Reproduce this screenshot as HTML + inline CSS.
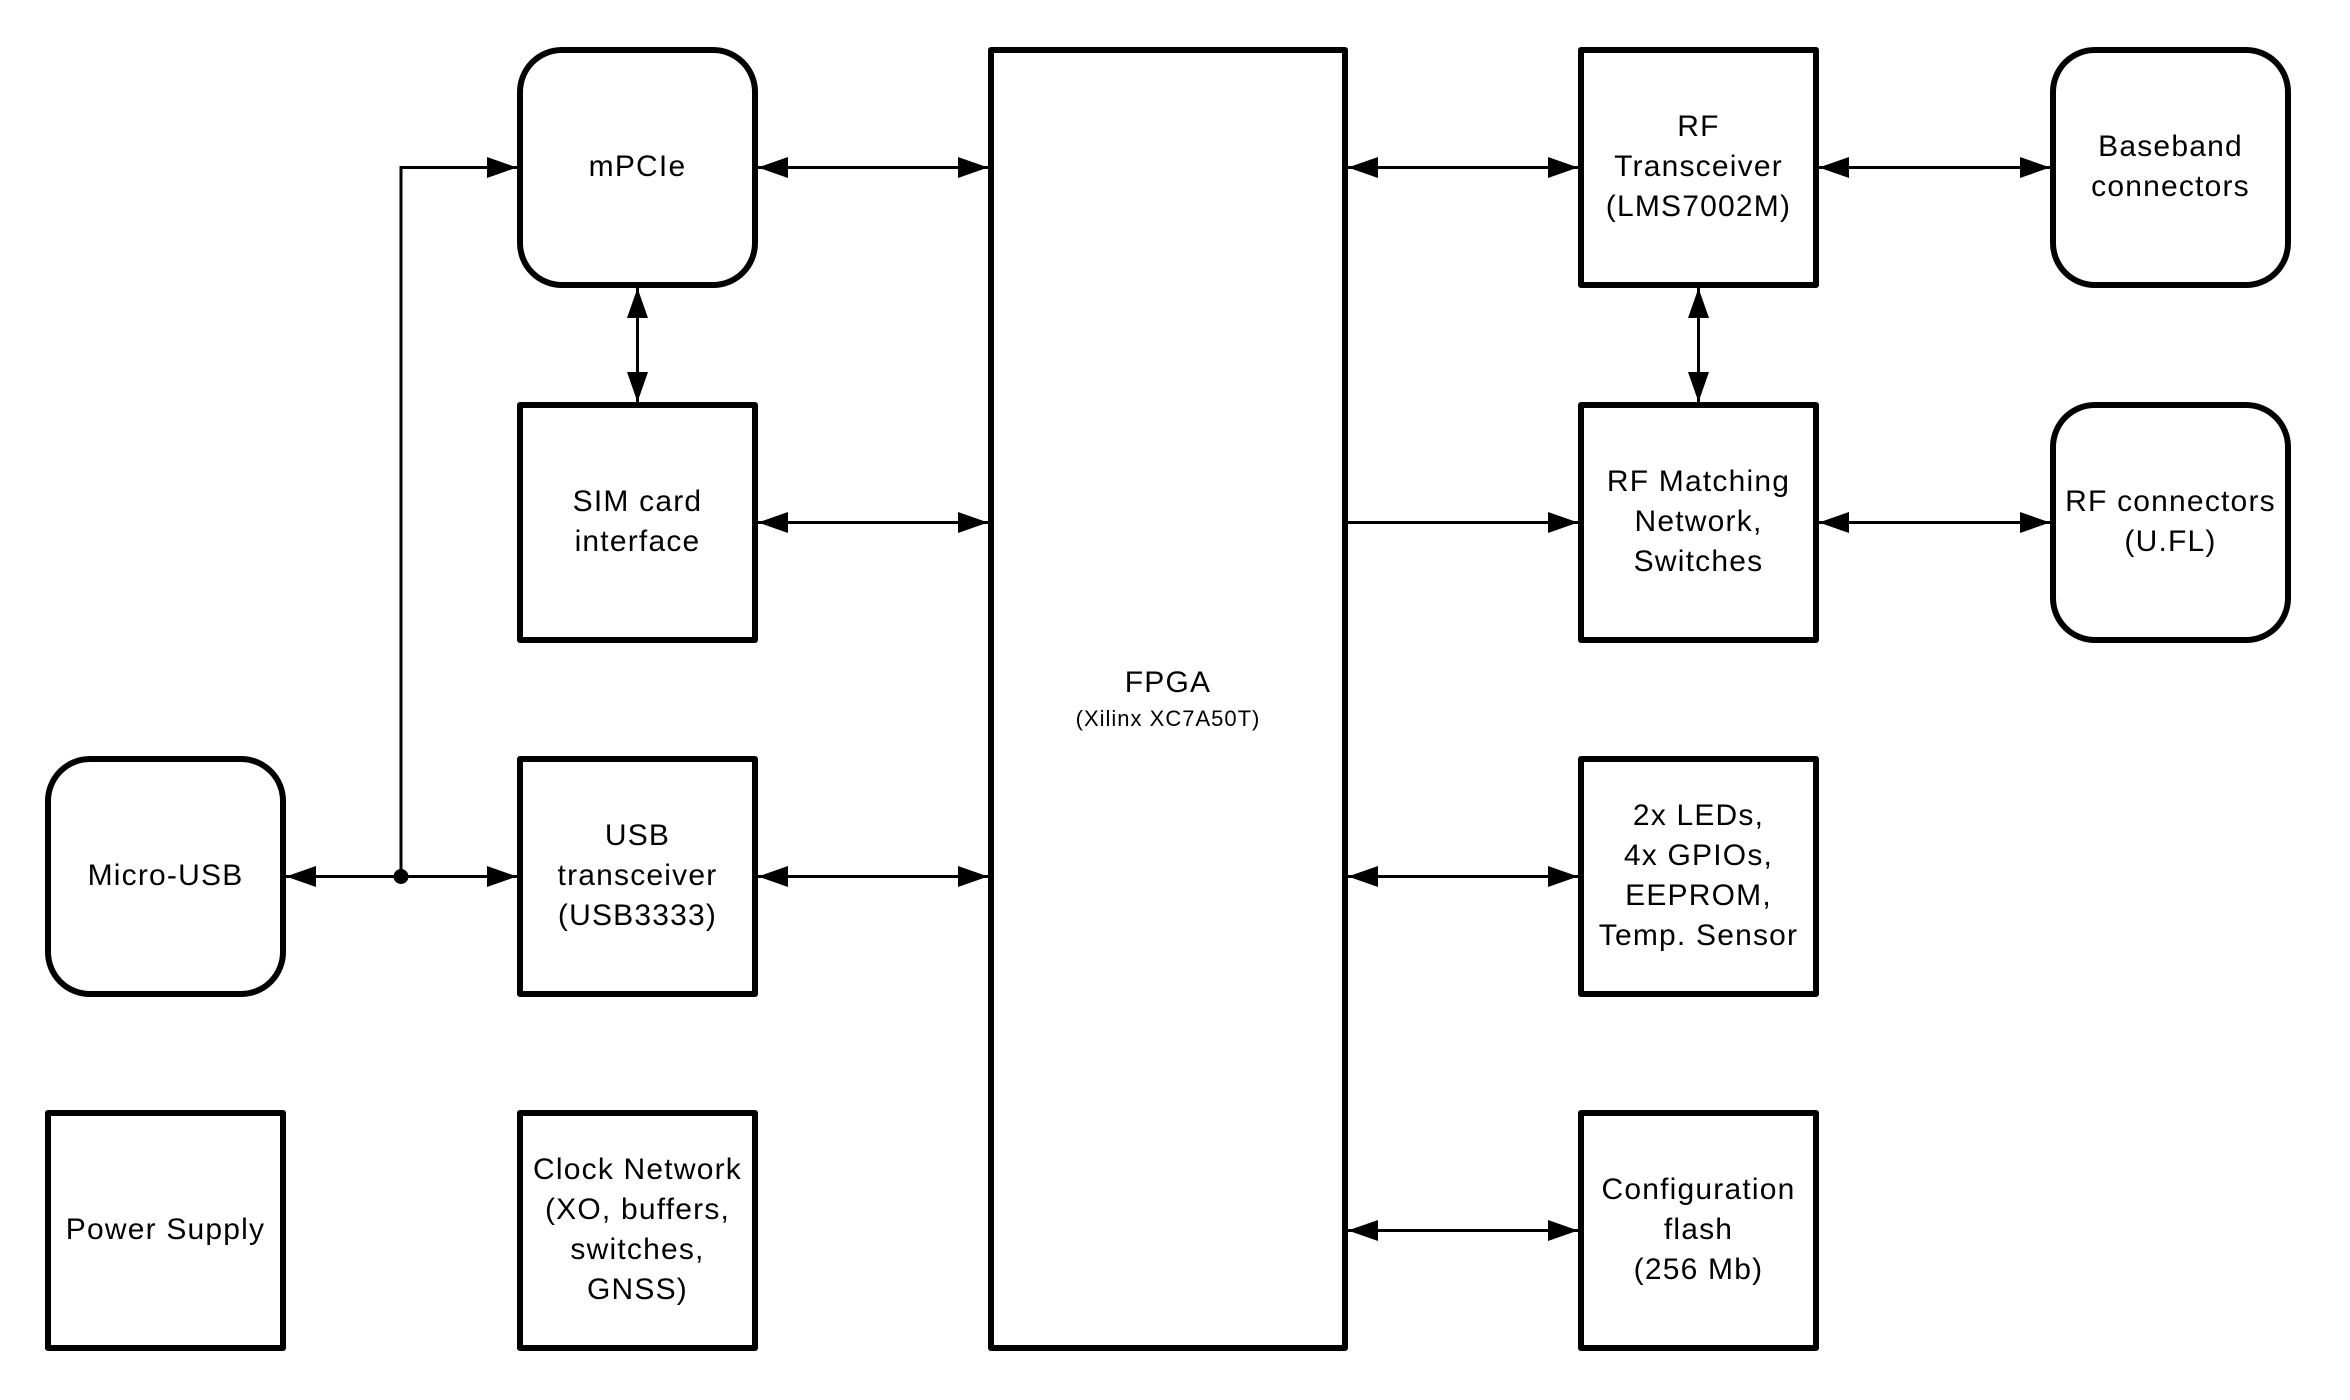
<!DOCTYPE html>
<html>
<head>
<meta charset="utf-8">
<style>
  html, body { margin: 0; padding: 0; background: #ffffff; }
  body { width: 2350px; height: 1400px; overflow: hidden; }
  svg { display: block; }
  text { font-family: "Liberation Sans", Arial, sans-serif; font-size: 30px; letter-spacing: 1.2px; fill: #000; text-anchor: middle; }
  .small { font-size: 22px; letter-spacing: 1px; }
  .box { fill: #fff; stroke: #000; stroke-width: 6; stroke-linejoin: round; }
  .ln { stroke: #000; stroke-width: 3; fill: none; }
  .ah { fill: #000; stroke: none; }
</style>
</head>
<body>
<svg width="2350" height="1400" viewBox="0 0 2350 1400" xmlns="http://www.w3.org/2000/svg">
  <rect x="0" y="0" width="2350" height="1400" fill="#fff"/>

  <!-- Micro-USB bus -->
  <line class="ln" x1="286" y1="876.5" x2="517" y2="876.5"/>
  <polyline class="ln" points="401,876.5 401,167.5 517,167.5"/>
  <circle cx="401" cy="876.5" r="7.5" fill="#000"/>
  <polygon class="ah" points="286,876.5 316,866 316,887"/>
  <polygon class="ah" points="517,876.5 487,866 487,887"/>
  <polygon class="ah" points="517,167.5 487,157 487,178"/>

  <!-- col1 <-> FPGA -->
  <line class="ln" x1="758" y1="167.5" x2="988" y2="167.5"/>
  <polygon class="ah" points="758,167.5 788,157 788,178"/>
  <polygon class="ah" points="988,167.5 958,157 958,178"/>

  <line class="ln" x1="758" y1="522.5" x2="988" y2="522.5"/>
  <polygon class="ah" points="758,522.5 788,512 788,533"/>
  <polygon class="ah" points="988,522.5 958,512 958,533"/>

  <line class="ln" x1="758" y1="876.5" x2="988" y2="876.5"/>
  <polygon class="ah" points="758,876.5 788,866 788,887"/>
  <polygon class="ah" points="988,876.5 958,866 958,887"/>

  <!-- mPCIe <-> SIM vertical -->
  <line class="ln" x1="637.5" y1="288" x2="637.5" y2="402"/>
  <polygon class="ah" points="637.5,288 627,318 648,318"/>
  <polygon class="ah" points="637.5,402 627,372 648,372"/>

  <!-- FPGA <-> col3 -->
  <line class="ln" x1="1348" y1="167.5" x2="1578" y2="167.5"/>
  <polygon class="ah" points="1348,167.5 1378,157 1378,178"/>
  <polygon class="ah" points="1578,167.5 1548,157 1548,178"/>

  <line class="ln" x1="1348" y1="522.5" x2="1578" y2="522.5"/>
  <polygon class="ah" points="1578,522.5 1548,512 1548,533"/>

  <line class="ln" x1="1348" y1="876.5" x2="1578" y2="876.5"/>
  <polygon class="ah" points="1348,876.5 1378,866 1378,887"/>
  <polygon class="ah" points="1578,876.5 1548,866 1548,887"/>

  <line class="ln" x1="1348" y1="1230.5" x2="1578" y2="1230.5"/>
  <polygon class="ah" points="1348,1230.5 1378,1220 1378,1241"/>
  <polygon class="ah" points="1578,1230.5 1548,1220 1548,1241"/>

  <!-- col3 <-> col4 -->
  <line class="ln" x1="1819" y1="167.5" x2="2050" y2="167.5"/>
  <polygon class="ah" points="1819,167.5 1849,157 1849,178"/>
  <polygon class="ah" points="2050,167.5 2020,157 2020,178"/>

  <line class="ln" x1="1819" y1="522.5" x2="2050" y2="522.5"/>
  <polygon class="ah" points="1819,522.5 1849,512 1849,533"/>
  <polygon class="ah" points="2050,522.5 2020,512 2020,533"/>

  <!-- RF transceiver <-> RF matching vertical -->
  <line class="ln" x1="1698.5" y1="288" x2="1698.5" y2="402"/>
  <polygon class="ah" points="1698.5,288 1688,318 1709,318"/>
  <polygon class="ah" points="1698.5,402 1688,372 1709,372"/>

  <!-- Boxes -->
  <rect class="box" x="48" y="759" width="235" height="235" rx="42" ry="42"/>
  <rect class="box" x="48" y="1113" width="235" height="235"/>
  <rect class="box" x="520" y="50" width="235" height="235" rx="42" ry="42"/>
  <rect class="box" x="520" y="405" width="235" height="235"/>
  <rect class="box" x="520" y="759" width="235" height="235"/>
  <rect class="box" x="520" y="1113" width="235" height="235"/>
  <rect class="box" x="991" y="50" width="354" height="1298"/>
  <rect class="box" x="1581" y="50" width="235" height="235"/>
  <rect class="box" x="1581" y="405" width="235" height="235"/>
  <rect class="box" x="1581" y="759" width="235" height="235"/>
  <rect class="box" x="1581" y="1113" width="235" height="235"/>
  <rect class="box" x="2053" y="50" width="235" height="235" rx="42" ry="42"/>
  <rect class="box" x="2053" y="405" width="235" height="235" rx="42" ry="42"/>

  <!-- Labels -->
  <text x="165.5" y="885">Micro-USB</text>
  <text x="165.5" y="1239">Power Supply</text>

  <text x="637.5" y="176">mPCIe</text>
  <text x="637.5" y="511">SIM card</text>
  <text x="637.5" y="551">interface</text>
  <text x="637.5" y="845">USB</text>
  <text x="637.5" y="885">transceiver</text>
  <text x="637.5" y="925">(USB3333)</text>
  <text x="637.5" y="1179">Clock Network</text>
  <text x="637.5" y="1219">(XO, buffers,</text>
  <text x="637.5" y="1259">switches,</text>
  <text x="637.5" y="1299">GNSS)</text>

  <text x="1168" y="692">FPGA</text>
  <text class="small" x="1168" y="726">(Xilinx XC7A50T)</text>

  <text x="1698.5" y="136">RF</text>
  <text x="1698.5" y="176">Transceiver</text>
  <text x="1698.5" y="216">(LMS7002M)</text>
  <text x="1698.5" y="491">RF Matching</text>
  <text x="1698.5" y="531">Network,</text>
  <text x="1698.5" y="571">Switches</text>
  <text x="1698.5" y="825">2x LEDs,</text>
  <text x="1698.5" y="865">4x GPIOs,</text>
  <text x="1698.5" y="905">EEPROM,</text>
  <text x="1698.5" y="945">Temp. Sensor</text>
  <text x="1698.5" y="1199">Configuration</text>
  <text x="1698.5" y="1239">flash</text>
  <text x="1698.5" y="1279">(256 Mb)</text>

  <text x="2170.5" y="156">Baseband</text>
  <text x="2170.5" y="196">connectors</text>
  <text x="2170.5" y="511">RF connectors</text>
  <text x="2170.5" y="551">(U.FL)</text>
</svg>
</body>
</html>
